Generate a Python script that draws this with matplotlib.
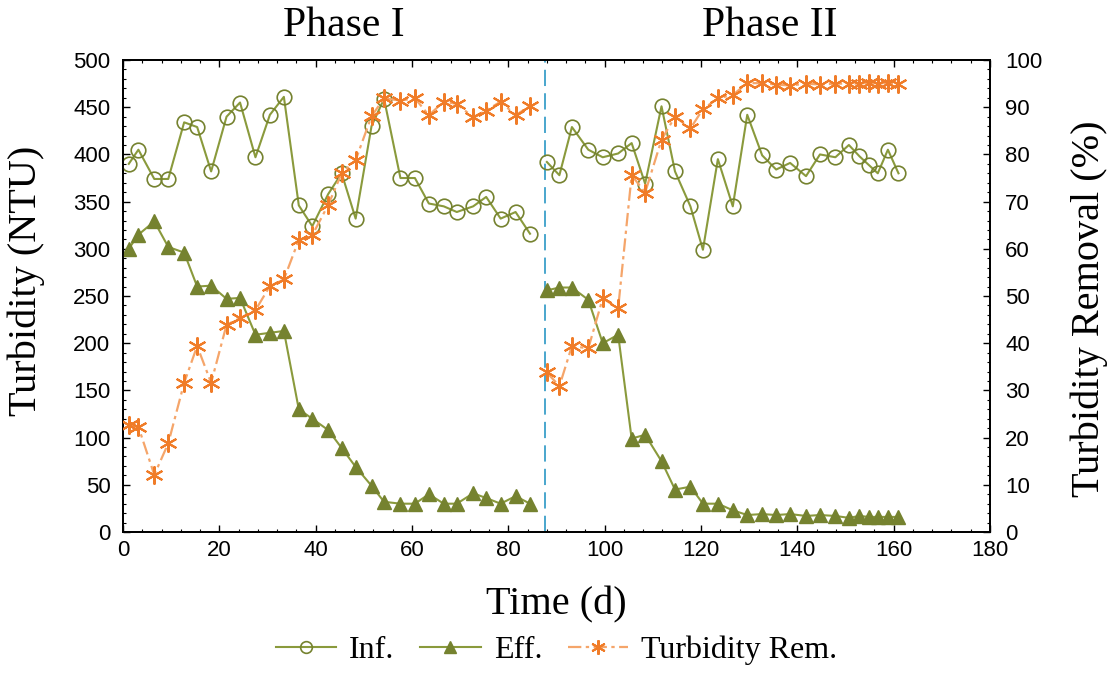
import matplotlib
matplotlib.use("Agg")
import matplotlib.pyplot as plt
from matplotlib.ticker import MultipleLocator

# ---- data ----
days_p1 = [1.2, 3.2, 6.5, 9.4, 12.7, 15.4, 18.3, 21.5, 24.3, 27.5, 30.5, 33.4, 36.5, 39.3,
           42.6, 45.4, 48.3, 51.6, 54.2, 57.6, 60.6, 63.5, 66.6, 69.3, 72.7, 75.4, 78.4, 81.5, 84.5]
inf_p1 = [390, 405, 374, 374, 434, 429, 382, 440, 455, 397, 442, 461, 346, 324,
          358, 380, 332, 430, 459, 375, 375, 348, 345, 339, 345, 355, 332, 339, 316]
eff_p1 = [300, 315, 329, 302, 296, 260, 261, 247, 248, 209, 211, 213, 130, 120,
          108, 89, 69, 49, 32, 30, 30, 40, 30, 30, 41, 36, 30, 38, 30]
rem_p1 = [22.7, 22.3, 12.1, 18.8, 31.6, 39.4, 31.6, 43.9, 45.3, 47.0, 52.1, 53.5, 61.9, 62.9,
          69.3, 76.0, 78.8, 88.1, 91.9, 91.4, 91.9, 88.3, 91.2, 90.7, 87.9, 89.3, 91.2, 88.3, 90.3]

days_p2 = [88.0, 90.6, 93.2, 96.6, 99.6, 102.8, 105.6, 108.4, 111.8, 114.6, 117.8, 120.4, 123.5,
           126.6, 129.6, 132.7, 135.6, 138.5, 141.8, 144.7, 147.9, 150.7, 152.9, 154.8, 156.7, 158.8, 161.0]
inf_p2 = [392, 378, 429, 405, 397, 401, 412, 369, 451, 382, 345, 299, 395,
          345, 442, 399, 384, 391, 377, 400, 397, 410, 398, 389, 380, 405, 380]
eff_p2 = [256, 259, 259, 246, 200, 209, 99, 103, 75, 45, 48, 30, 30,
          23, 18, 19, 18, 19, 17, 18, 17, 15, 17, 16, 16, 16, 16]
rem_p2 = [33.8, 30.9, 39.4, 38.9, 49.5, 47.4, 75.6, 71.9, 83.1, 88.0, 85.5, 89.6, 91.9,
          92.6, 95.1, 95.1, 94.8, 94.6, 95.0, 94.8, 95.0, 95.0, 95.0, 95.2, 95.0, 95.2, 95.0]

phase_split = 87.6
phase_labels = ["Phase I", "Phase II"]
series_labels = ["Inf.", "Eff.", "Turbidity Rem."]

GREEN = "#75822f"
GREEN_LINE = "#8a9a3c"
ORANGE = "#f07c28"
ORANGE_LINE = "#f5a56a"
BLUE = "#3a9fc9"

SERIF = ["Liberation Serif", "DejaVu Serif"]
SANS = ["Liberation Sans", "DejaVu Sans"]

fig = plt.figure(figsize=(11.13, 6.73), dpi=100)
ax = fig.add_axes([0.1105, 0.2095, 0.779, 0.7013])
ax2 = ax.twinx()

handles = []
for i, (d, inf, eff, rem) in enumerate([(days_p1, inf_p1, eff_p1, rem_p1),
                                        (days_p2, inf_p2, eff_p2, rem_p2)]):
    h1, = ax.plot(d, inf, color=GREEN_LINE, lw=1.5, marker="o", ms=10.5,
                  mfc="none", mec=GREEN, mew=1.2, zorder=3)
    h2, = ax.plot(d, eff, color=GREEN_LINE, lw=1.5, marker="^", ms=10,
                  mfc=GREEN, mec=GREEN, zorder=3)
    h3, = ax2.plot(d, rem, color=ORANGE_LINE, lw=1.6, ls=(0, (6, 2, 1.5, 2)),
                   marker=(6, 2, 0), ms=13, mec=ORANGE, mew=1.5, zorder=3)
    if i == 0:
        handles = [h1, h2, h3]

ax.axvline(phase_split, color=BLUE, lw=1.3, ls=(0, (9, 4)), zorder=2)

ax.set_xlim(0, 180)
ax.set_ylim(0, 500)
ax2.set_ylim(0, 100)
ax.xaxis.set_major_locator(MultipleLocator(20))
ax.xaxis.set_minor_locator(MultipleLocator(4))
ax.yaxis.set_major_locator(MultipleLocator(50))
ax.yaxis.set_minor_locator(MultipleLocator(10))
ax2.yaxis.set_major_locator(MultipleLocator(10))
ax2.yaxis.set_minor_locator(MultipleLocator(2))

for a in (ax, ax2):
    a.tick_params(which="major", direction="in", length=5, width=1.0, labelsize=16,
                  top=True)
    a.tick_params(which="minor", direction="in", length=2.5, width=0.8, top=True)
    for lab in a.get_xticklabels() + a.get_yticklabels():
        lab.set_family(SANS)
    for s in a.spines.values():
        s.set_linewidth(1.3)
ax.tick_params(axis="x", pad=6)
ax.tick_params(axis="y", pad=9)
ax2.tick_params(axis="y", pad=11)

ax.set_xlabel("Time (d)", fontsize=29, family=SERIF)
ax.xaxis.set_label_coords(0.5, -0.155)
ax.xaxis.label.set_verticalalignment("center")

ax.set_ylabel("Turbidity (NTU)", fontsize=29, family=SERIF)
ax.yaxis.set_label_coords(-0.111, 0.532)
ax.yaxis.label.set_verticalalignment("center")

ax2.set_ylabel("Turbidity Removal (%)", fontsize=29, family=SERIF)
ax2.yaxis.set_label_coords(1.114, 0.472)
ax2.yaxis.label.set_verticalalignment("center")

fig.text(344 / 1113, 1 - 26 / 673, phase_labels[0], fontsize=30, family=SERIF,
         ha="center", va="center")
fig.text(770 / 1113, 1 - 26 / 673, phase_labels[1], fontsize=30, family=SERIF,
         ha="center", va="center")

fig.legend(handles, series_labels, loc="center", bbox_to_anchor=(0.5, 1 - 650 / 673),
           ncol=3, frameon=False, prop={"family": SERIF, "size": 23},
           handlelength=1.9, handletextpad=0.4, columnspacing=0.8, markerscale=0.8,
           borderpad=0.1)

fig.savefig("out.png", dpi=100)
